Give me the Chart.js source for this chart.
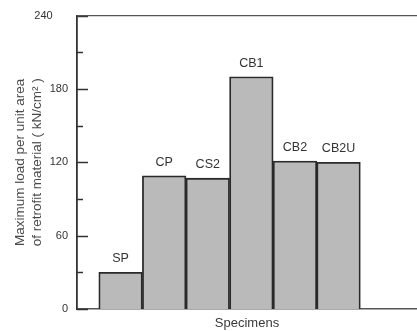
<!DOCTYPE html>
<html lang="en">
<head>
<meta charset="UTF-8">
<title>Maximum load per unit area</title>
<script src="https://cdn.jsdelivr.net/npm/chart.js@4.4.0/dist/chart.umd.min.js"></script>
<style>
  body { margin: 0; background: #fff; }
  #wrap { width: 417px; height: 331px; }
</style>
</head>
<body>
<div id="wrap"><canvas id="myChart" width="417" height="331"></canvas></div>
<script>
    // specimens and their max load per unit area (kN/cm2)
    const specimens = ['SP', 'CP', 'CS2', 'CB1', 'CB2', 'CB2U'];
    const maxLoad = [30, 109, 107, 190, 121, 120];
    const positions = [1, 2, 3, 4, 5, 6];
    const majorTicks = [0, 60, 120, 180, 240];
    const minorTicks = [30, 90, 150, 210];

    const FONT = "'Liberation Sans', Arial, sans-serif";

    // inward ticks and labels over the bars
    const decorations = {
        id: 'decorations',
        afterDraw(chart) {
            const ctx = chart.ctx;
            const y = chart.scales.y;
            const area = chart.chartArea;
            ctx.save();
            ctx.strokeStyle = '#333';
            ctx.lineWidth = 1.5;
            majorTicks.concat(minorTicks).forEach(v => {
                const py = Math.round(y.getPixelForValue(v)) + 0.5;
                const len = majorTicks.includes(v) ? 11 : 6;
                ctx.beginPath();
                ctx.moveTo(area.left, py);
                ctx.lineTo(area.left + len, py);
                ctx.stroke();
            });
            // top frame line
            ctx.strokeStyle = '#555';
            ctx.lineWidth = 1.2;
            ctx.beginPath();
            ctx.moveTo(area.left, area.top);
            ctx.lineTo(area.right, area.top);
            ctx.stroke();

            ctx.fillStyle = '#333';
            ctx.font = '12.5px ' + FONT;
            ctx.textAlign = 'center';
            ctx.textBaseline = 'alphabetic';
            chart.getDatasetMeta(0).data.forEach((bar, i) => {
                ctx.fillText(specimens[i], bar.x, bar.y - 10);
            });
            ctx.restore();
        }
    };

    const ctx = document.getElementById('myChart').getContext('2d');
    new Chart(ctx, {
        type: 'bar',
        data: {
            datasets: [{
                data: positions.map((p, i) => ({ x: p, y: maxLoad[i] })),
                backgroundColor: '#bababa',
                borderColor: '#2a2a2a',
                borderWidth: 1.8,
                borderSkipped: 'bottom',
                barPercentage: 1,
                categoryPercentage: 1
            }]
        },
        options: {
            responsive: false,
            animation: false,
            layout: { padding: { left: 0, right: 0, top: 2, bottom: 0 } },
            plugins: {
                legend: { display: false },
                tooltip: { enabled: false }
            },
            scales: {
                x: {
                    type: 'linear',
                    offset: false,
                    min: 0,
                    max: 7.8,
                    grid: { display: false, drawTicks: false },
                    border: { color: '#555', width: 1.5 },
                    ticks: { display: false, stepSize: 1, includeBounds: false },
                    title: {
                        display: true,
                        text: 'Specimens',
                        color: '#3a3a3a',
                        font: { family: FONT, size: 13 },
                        padding: { top: 7, bottom: 0 }
                    },
                    afterFit(scale) { scale.height = 22; }
                },
                y: {
                    min: 0,
                    max: 240,
                    grid: { display: false, drawTicks: false },
                    border: { color: '#333', width: 1.8 },
                    ticks: {
                        stepSize: 60,
                        padding: 9,
                        color: '#333',
                        font: { family: FONT, size: 11 },
                        callback: v => v === 240 ? '240     ' : String(v)
                    },
                    title: {
                        display: true,
                        text: ['Maximum load per unit area', 'of retrofit material ( kN/cm\u00B2 )'],
                        color: '#4a4a4a',
                        font: { family: FONT, size: 13.5, lineHeight: 1.25 },
                        padding: { top: 12, bottom: 0 }
                    },
                    afterFit(scale) { scale.width = 77; }
                }
            }
        },
        plugins: [decorations]
    });
</script>
</body>
</html>
